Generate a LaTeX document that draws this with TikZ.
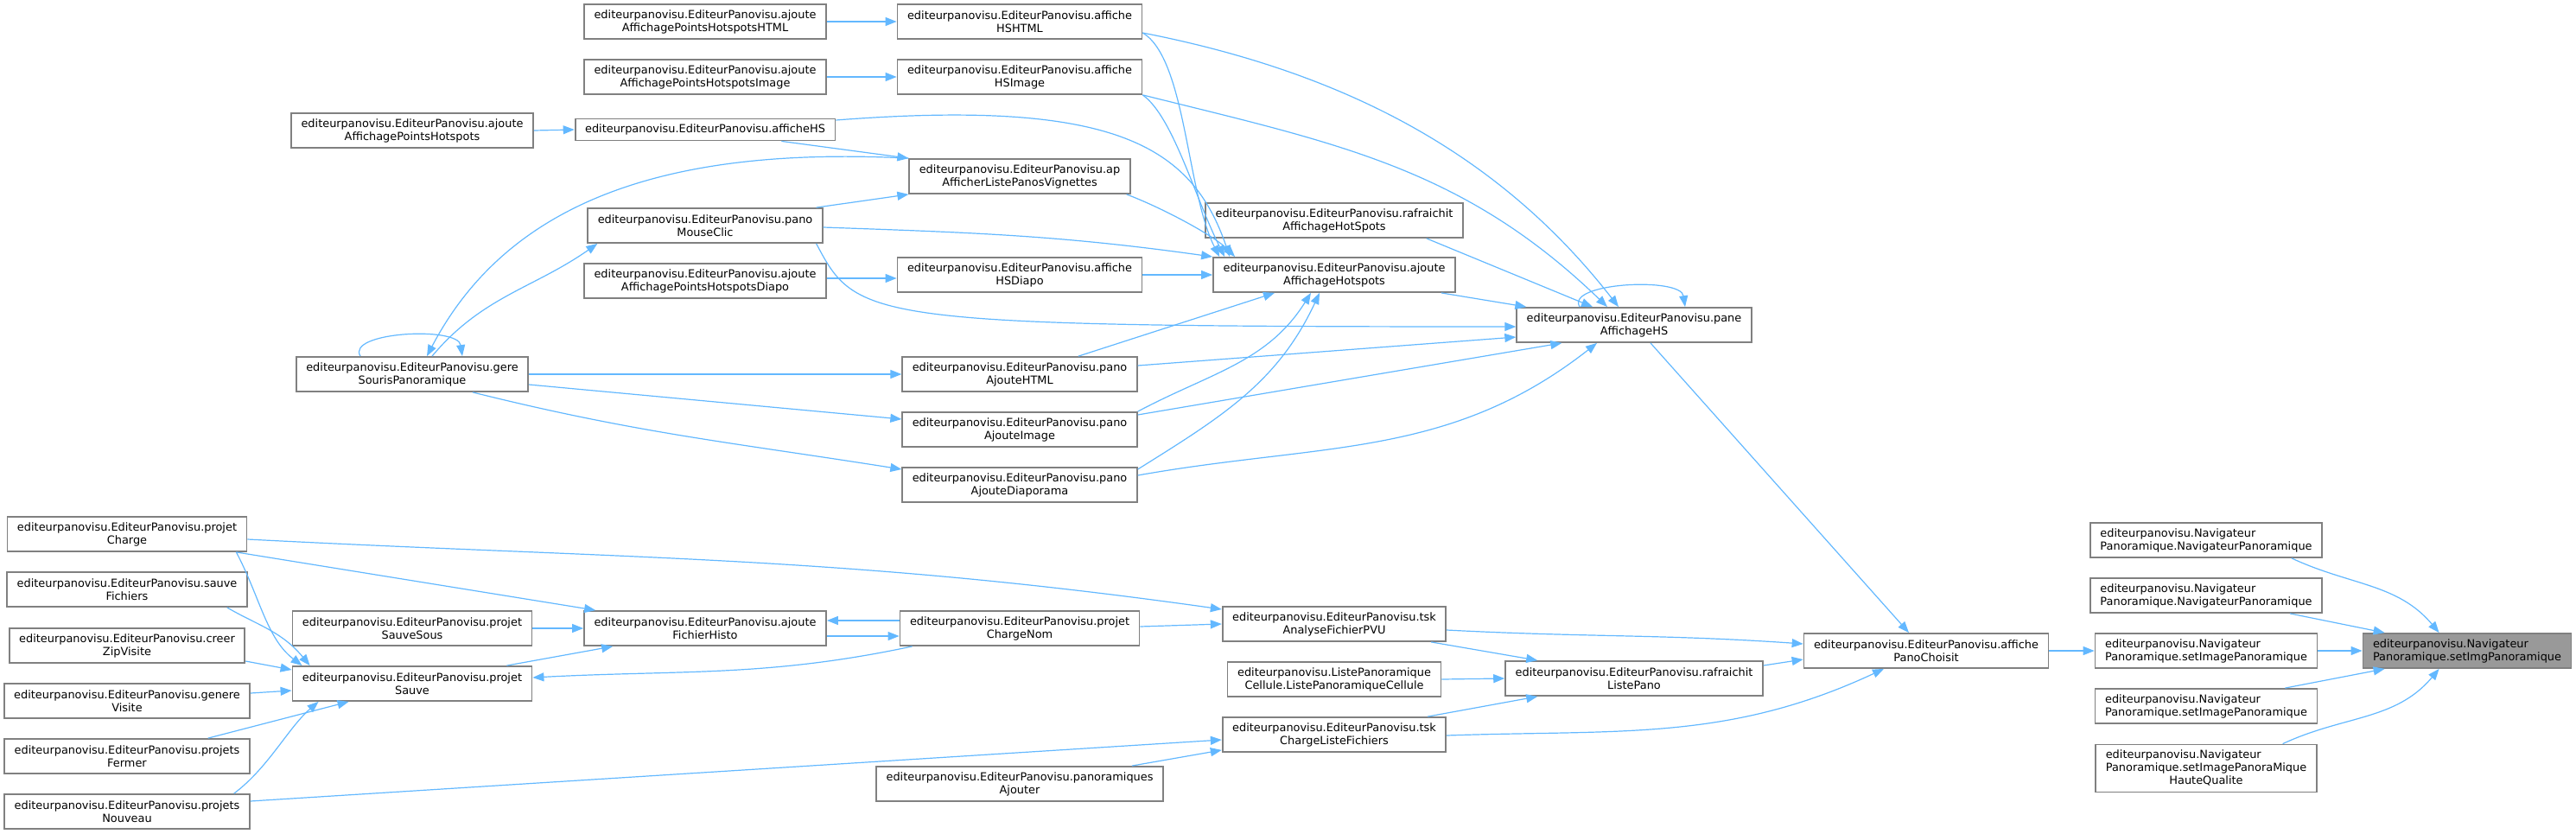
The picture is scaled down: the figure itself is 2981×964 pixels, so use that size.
\documentclass[tikz,border=0pt]{standalone}
\usepackage{fontspec}
\setmainfont{DejaVu Sans}
\usepackage{xcolor}
\usetikzlibrary{arrows.meta}
\definecolor{edgeblue}{HTML}{63B8FF}
\definecolor{boxgray}{HTML}{808080}
\definecolor{rootfill}{HTML}{999999}

\begin{document}
\begin{tikzpicture}[x=1pt,y=1pt,
  box/.style={draw=boxgray,line width=1.8pt,fill=white,align=center,inner xsep=11.5pt,inner ysep=2pt,minimum height=40pt,font=\fontsize{12.9}{15}\selectfont},
  lbox/.style={box,align=left},
  rootbox/.style={lbox,fill=rootfill},
  edge/.style={draw=edgeblue,line width=1.2pt,-{Triangle[length=13pt,width=10pt]}}]
\useasboundingbox (0,0) rectangle (2981,-964);

\node[box] (projCharge) at (147,-618) {editeurpanovisu.EditeurPanovisu.projet\\Charge};
\node[box] (sauveFich) at (147,-682) {editeurpanovisu.EditeurPanovisu.sauve\\Fichiers};
\node[box] (creerZip) at (147,-747) {editeurpanovisu.EditeurPanovisu.creer\\ZipVisite};
\node[box] (genereVis) at (147,-811) {editeurpanovisu.EditeurPanovisu.genere\\Visite};
\node[box] (projFermer) at (147,-875) {editeurpanovisu.EditeurPanovisu.projets\\Fermer};
\node[box] (projNouveau) at (147,-939) {editeurpanovisu.EditeurPanovisu.projets\\Nouveau};

\node[box] (aPHot) at (477,-151) {editeurpanovisu.EditeurPanovisu.ajoute\\AffichagePointsHotspots};
\node[box] (gereSouris) at (477,-433) {editeurpanovisu.EditeurPanovisu.gere\\SourisPanoramique};
\node[box] (projSauveSous) at (477,-727) {editeurpanovisu.EditeurPanovisu.projet\\SauveSous};
\node[box] (projSauve) at (477,-791) {editeurpanovisu.EditeurPanovisu.projet\\Sauve};

\node[box] (aPHtml) at (816,-25) {editeurpanovisu.EditeurPanovisu.ajoute\\AffichagePointsHotspotsHTML};
\node[box] (aPImage) at (816,-89) {editeurpanovisu.EditeurPanovisu.ajoute\\AffichagePointsHotspotsImage};
\node[box,minimum height=25] (afficheHS) at (816,-150) {editeurpanovisu.EditeurPanovisu.afficheHS};
\node[box] (panoClic) at (816,-261) {editeurpanovisu.EditeurPanovisu.pano\\MouseClic};
\node[box] (aPDiapo) at (816,-325) {editeurpanovisu.EditeurPanovisu.ajoute\\AffichagePointsHotspotsDiapo};
\node[box] (ajFichHisto) at (816,-727) {editeurpanovisu.EditeurPanovisu.ajoute\\FichierHisto};

\node[box] (hsHtml) at (1180,-25) {editeurpanovisu.EditeurPanovisu.affiche\\HSHTML};
\node[box] (hsImage) at (1180,-89) {editeurpanovisu.EditeurPanovisu.affiche\\HSImage};
\node[box] (apListe) at (1180,-204) {editeurpanovisu.EditeurPanovisu.ap\\AfficherListePanosVignettes};
\node[box] (hsDiapo) at (1180,-318) {editeurpanovisu.EditeurPanovisu.affiche\\HSDiapo};
\node[box] (panoHtml) at (1180,-433) {editeurpanovisu.EditeurPanovisu.pano\\AjouteHTML};
\node[box] (panoImage) at (1180,-497) {editeurpanovisu.EditeurPanovisu.pano\\AjouteImage};
\node[box] (panoDiapo) at (1180,-561) {editeurpanovisu.EditeurPanovisu.pano\\AjouteDiaporama};
\node[box] (projChargeNom) at (1180,-727) {editeurpanovisu.EditeurPanovisu.projet\\ChargeNom};
\node[box] (panoAjouter) at (1180,-907) {editeurpanovisu.EditeurPanovisu.panoramiques\\Ajouter};

\node[box] (rafHot) at (1544,-255) {editeurpanovisu.EditeurPanovisu.rafraichit\\AffichageHotSpots};
\node[box] (ajAffHot) at (1544,-318) {editeurpanovisu.EditeurPanovisu.ajoute\\AffichageHotspots};
\node[box] (tskAnalyse) at (1544,-722) {editeurpanovisu.EditeurPanovisu.tsk\\AnalyseFichierPVU};
\node[box] (listeCell) at (1544,-786) {editeurpanovisu.ListePanoramique\\Cellule.ListePanoramiqueCellule};
\node[box] (tskCharge) at (1544,-850) {editeurpanovisu.EditeurPanovisu.tsk\\ChargeListeFichiers};

\node[box] (paneHS) at (1891,-376) {editeurpanovisu.EditeurPanovisu.pane\\AffichageHS};
\node[box] (rafListe) at (1891,-785) {editeurpanovisu.EditeurPanovisu.rafraichit\\ListePano};

\node[box] (affPano) at (2229,-753) {editeurpanovisu.EditeurPanovisu.affiche\\PanoChoisit};

\node[lbox] (navA) at (2553,-625) {editeurpanovisu.Navigateur\\Panoramique.NavigateurPanoramique};
\node[lbox] (navB) at (2553,-689) {editeurpanovisu.Navigateur\\Panoramique.NavigateurPanoramique};
\node[lbox] (setImgA) at (2553,-753) {editeurpanovisu.Navigateur\\Panoramique.setImagePanoramique};
\node[lbox] (setImgB) at (2553,-817) {editeurpanovisu.Navigateur\\Panoramique.setImagePanoramique};
\node[box,minimum height=55] (setImgHQ) at (2553,-889) {\begin{tabular}{@{}l@{}}editeurpanovisu.Navigateur\\Panoramique.setImagePanoraMique\\\multicolumn{1}{@{}c@{}}{HauteQualite}\end{tabular}};
\node[rootbox] (root) at (2855,-753) {editeurpanovisu.Navigateur\\Panoramique.setImgPanoramique};

\draw[edge] ([xshift=-36]navA.south east) to[out=-25,in=130] ([xshift=89]root.north west);
\draw[edge] ([xshift=-38]navB.south east) -- ([xshift=26]root.north west);
\draw[edge] (setImgA.east) -- (root.west);
\draw[edge] ([xshift=-38]setImgB.north east) -- ([xshift=26]root.south west);
\draw[edge] ([xshift=-40]setImgHQ.north east) to[out=25,in=-130] ([xshift=89]root.south west);
\draw[edge] (affPano.east) -- (setImgA.west);

\draw[edge] ([xshift=19]paneHS.south) -- ([xshift=-20]affPano.north);
\draw[edge] ([yshift=-7]tskAnalyse.east) to[out=-3,in=176] ([yshift=8]affPano.west);
\draw[edge] ([yshift=15]rafListe.east) -- ([yshift=-10]affPano.west);
\draw[edge] ([yshift=-1]tskCharge.east) to[out=2,in=-155] ([xshift=-49]affPano.south);

\draw[edge] ([xshift=-18]tskAnalyse.south east) -- ([xshift=38]rafListe.north west);
\draw[edge] (listeCell.east) -- (rafListe.west);
\draw[edge] ([xshift=-22]tskCharge.north east) -- ([xshift=38]rafListe.south west);

\draw[edge] ([yshift=2]projChargeNom.east) -- (tskAnalyse.west);
\draw[edge] ([yshift=-6]projCharge.east) .. controls +(442,-23) and +(-439,62) .. ([yshift=17]tskAnalyse.west);
\draw[edge] ([yshift=12]projNouveau.east) -- ([yshift=-6]tskCharge.west);
\draw[edge] ([xshift=-37]panoAjouter.north east) -- ([yshift=3]tskCharge.south west);

\draw[edge] ([yshift=9]projChargeNom.west) -- ([yshift=9]ajFichHisto.east);
\draw[edge] ([yshift=-9]ajFichHisto.east) -- ([yshift=-9]projChargeNom.west);
\draw[edge] ([xshift=15]projChargeNom.south west) to[out=-168,in=3] ([yshift=7]projSauve.east);

\draw[edge] ([xshift=-13]projCharge.south east) -- ([xshift=14]ajFichHisto.north west);
\draw[edge] (projSauveSous.east) -- (ajFichHisto.west);
\draw[edge] ([xshift=-30]projSauve.north east) -- ([xshift=34]ajFichHisto.south west);

\draw[edge] ([xshift=-13]projCharge.south east) .. controls +(27,-51) and +(-41,31) .. ([xshift=12]projSauve.north west);
\draw[edge] ([xshift=-24]sauveFich.south east) .. controls +(34,-20) and +(-33,40) .. ([xshift=21]projSauve.north west);
\draw[edge] ([yshift=-18]creerZip.east) -- ([yshift=16]projSauve.west);
\draw[edge] ([yshift=9]genereVis.east) -- ([yshift=-8]projSauve.west);
\draw[edge] ([xshift=-49]projFermer.north east) -- ([xshift=66]projSauve.south west);
\draw[edge] ([xshift=-19]projNouveau.north east) .. controls +(40,30) and +(-35,-30) .. ([xshift=31]projSauve.south west);

\draw[edge] (aPHtml.east) -- (hsHtml.west);
\draw[edge] (aPImage.east) -- (hsImage.west);
\draw[edge] (aPHot.east) -- (afficheHS.west);
\draw[edge] ([yshift=3]aPDiapo.east) -- ([yshift=-4]hsDiapo.west);
\draw[edge] (hsDiapo.east) -- (ajAffHot.west);

\draw[edge] ([yshift=-13]hsHtml.east) .. controls +(230,-45) and +(-140,180) .. ([xshift=-18]paneHS.north);
\draw[edge] ([yshift=-13]hsHtml.east) .. controls +(50,-30) and +(-38,75) .. ([xshift=8]ajAffHot.north west);
\draw[edge] (hsImage.south east) .. controls +(225,-56) and +(-167,161) .. ([xshift=-31]paneHS.north);
\draw[edge] (hsImage.south east) .. controls +(35,-25) and +(-35,70) .. ([xshift=14]ajAffHot.north west);
\draw[edge] ([yshift=11]afficheHS.east) .. controls +(324,25) and +(-44,128) .. ([xshift=20]ajAffHot.north west);
\draw[edge] ([xshift=-63]afficheHS.south east) -- (apListe.north west);
\draw[edge] (apListe.north west) .. controls +(-273,14) and +(96,183) .. ([xshift=17]gereSouris.north);

\draw[edge] ([xshift=23]gereSouris.north) to[out=50,in=-145] ([xshift=12]panoClic.south west);
\draw[edge] ([xshift=-8]panoClic.north east) -- (apListe.south west);
\draw[edge] ([yshift=-2]panoClic.east) to[out=-2,in=172] (ajAffHot.north west);
\draw[edge] ([xshift=-8]panoClic.south east) .. controls +(47,-89) and +(-755,0) .. ([yshift=-2]paneHS.west);
\draw[edge] ([xshift=-5]apListe.south east) .. controls +(40,-15) and +(-25,25) .. ([xshift=26]ajAffHot.north west);

\draw[edge] (gereSouris.east) -- (panoHtml.west);
\draw[edge] ([yshift=10]panoHtml.east) -- ([yshift=-14]paneHS.west);
\draw[edge] ([xshift=68]panoHtml.north) -- ([xshift=-69]ajAffHot.south);

\draw[edge] ([yshift=-12]gereSouris.east) -- ([yshift=12]panoImage.west);
\draw[edge] (panoImage.north east) to[out=28,in=-122] ([xshift=-27]ajAffHot.south);
\draw[edge] ([yshift=17]panoImage.east) -- ([xshift=53]paneHS.south west);

\draw[edge] ([xshift=70]gereSouris.south) to[out=-14,in=171] ([yshift=18]panoDiapo.west);
\draw[edge] ([yshift=18]panoDiapo.east) to[out=32,in=-115] ([xshift=-17]ajAffHot.south);
\draw[edge] ([yshift=11]panoDiapo.east) .. controls +(214,38) and +(-171,-134) .. ([xshift=-43]paneHS.south);

\draw[edge] ([xshift=-43]rafHot.south east) -- ([xshift=-48]paneHS.north);
\draw[edge] ([xshift=-17]ajAffHot.south east) -- ([xshift=12]paneHS.north west);

\draw[edge] ([xshift=-60]gereSouris.north) .. controls +(-17,28) and +(-5,35) .. ([xshift=58]gereSouris.north);
\draw[edge] ([xshift=-63]paneHS.north) .. controls +(-17,28) and +(-5,35) .. ([xshift=59]paneHS.north);
\end{tikzpicture}
\end{document}
